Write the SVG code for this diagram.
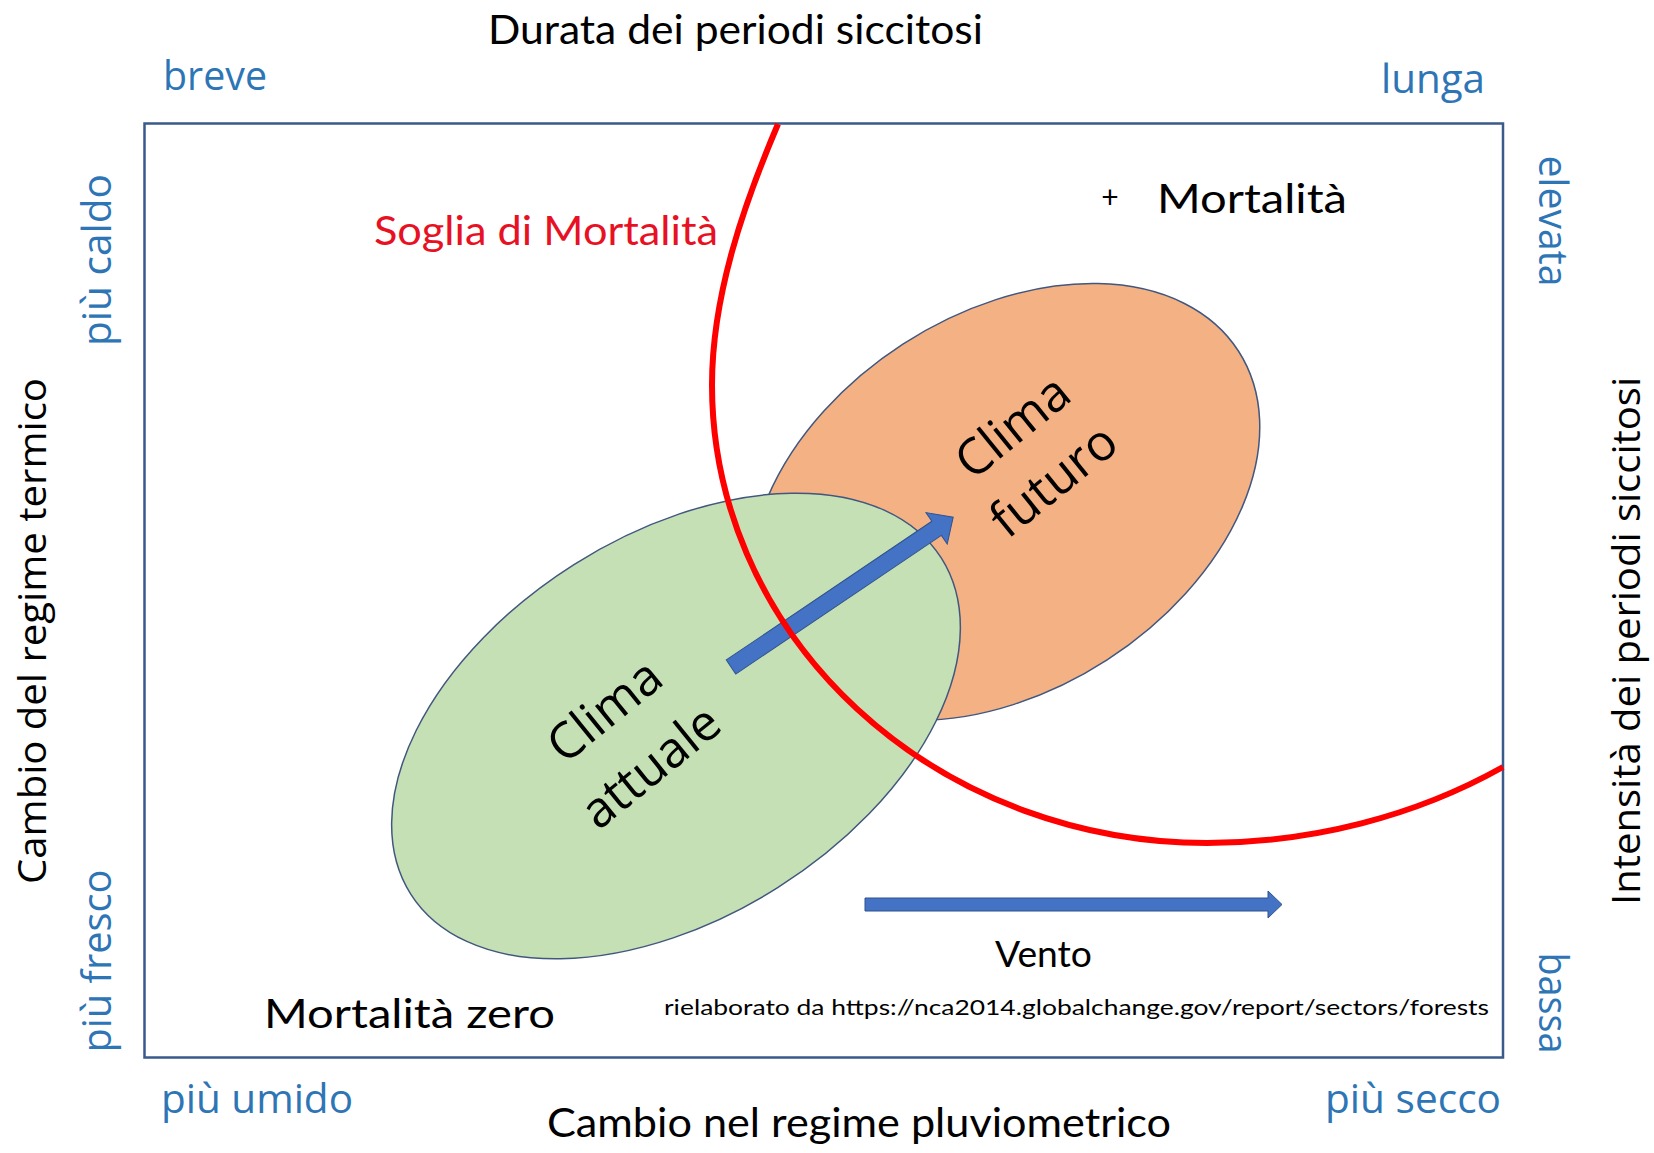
<svg xmlns="http://www.w3.org/2000/svg" width="1654" height="1153" viewBox="0 0 1654 1153">
<style>
.blue{fill:#2E75B6;font-family:"Open Sans","Liberation Sans",sans-serif;font-size:41px}
.blk{fill:#000;font-family:"Lato","Liberation Sans",sans-serif;font-size:40px}
.ax{fill:#000;font-family:"Open Sans","Liberation Sans",sans-serif;font-size:38px}
.clima{fill:#000;font-family:"Open Sans","Liberation Sans",sans-serif;font-size:50px;text-anchor:middle}
.arrow{fill:#4472C4;stroke:#2F528F;stroke-width:1}
</style>
<rect width="1654" height="1153" fill="#fff"/>
<g id="frame"><rect x="144.5" y="123.5" width="1358.5" height="934" fill="#fff" stroke="#3B5A8C" stroke-width="2.5"/></g>
<g id="axis-labels">
<text class="blk" x="488" y="44" textLength="495" lengthAdjust="spacingAndGlyphs">Durata dei periodi siccitosi</text>
<text class="blk" x="547" y="1137" textLength="624" lengthAdjust="spacingAndGlyphs">Cambio nel regime pluviometrico</text>
<text class="ax" transform="translate(46 631) rotate(-90)" text-anchor="middle" textLength="506" lengthAdjust="spacingAndGlyphs">Cambio del regime termico</text>
<text class="ax" transform="translate(1640 641) rotate(-90)" text-anchor="middle" textLength="528" lengthAdjust="spacingAndGlyphs">Intensità dei periodi siccitosi</text>
</g>
<g id="range-labels">
<text class="blue" x="163" y="90" textLength="104" lengthAdjust="spacingAndGlyphs">breve</text>
<text class="blue" x="1381" y="93" textLength="104" lengthAdjust="spacingAndGlyphs">lunga</text>
<text class="blue" x="161" y="1113" textLength="192" lengthAdjust="spacingAndGlyphs">più umido</text>
<text class="blue" x="1325" y="1113" textLength="176" lengthAdjust="spacingAndGlyphs">più secco</text>
<text class="blue" transform="translate(111 260) rotate(-90)" text-anchor="middle" textLength="172" lengthAdjust="spacingAndGlyphs">più caldo</text>
<text class="blue" transform="translate(111 961) rotate(-90)" text-anchor="middle" textLength="183" lengthAdjust="spacingAndGlyphs">più fresco</text>
<text class="blue" transform="translate(1539 221) rotate(90)" text-anchor="middle" textLength="131" lengthAdjust="spacingAndGlyphs">elevata</text>
<text class="blue" transform="translate(1539 1003) rotate(90)" text-anchor="middle" textLength="101" lengthAdjust="spacingAndGlyphs">bassa</text>
</g>
<g id="clima-futuro">
<ellipse cx="1005" cy="502" rx="278" ry="188" transform="rotate(-32.9 1005 502)" fill="#F4B183" stroke="#41577F" stroke-width="1.5"/>
<text class="clima" transform="translate(1012 426) rotate(-39)" x="0" y="18">Clima</text>
<text class="clima" transform="translate(1053 480) rotate(-39)" x="0" y="18">futuro</text>
</g>
<g id="clima-attuale">
<ellipse cx="676" cy="726" rx="314" ry="191" transform="rotate(-32.3 676 726)" fill="#C5E0B4" stroke="#41577F" stroke-width="1.5"/>
<text class="clima" transform="translate(604 710) rotate(-39)" x="0" y="18">Clima</text>
<text class="clima" transform="translate(650 766) rotate(-39)" x="0" y="18">attuale</text>
</g>
<g id="connectors">
<polygon class="arrow" transform="translate(731 667) rotate(-34)" points="0,-8.5 248,-8.5 248,-19 268,0 248,19 248,8.5 0,8.5"/>
<polygon class="arrow" points="865,898 1268,898 1268,891 1282,904.5 1268,918 1268,911 865,911"/>
</g>
<g id="soglia">
<path d="M778 124 C744 204 712 295 712 385 A495 458 0 0 0 1207 843 A540 458 0 0 0 1503 767" fill="none" stroke="#FF0000" stroke-width="6"/>
<text class="blk" x="374" y="245" style="fill:#E81123" textLength="344" lengthAdjust="spacingAndGlyphs">Soglia di Mortalità</text>
</g>
<g id="mortalita">
<text class="blk" x="1110" y="208" text-anchor="middle" style="font-size:30px">+</text>
<text class="blk" x="1157" y="213" textLength="190" lengthAdjust="spacingAndGlyphs">Mortalità</text>
</g>
<g id="mortalita-zero">
<text class="blk" x="264" y="1028" textLength="291" lengthAdjust="spacingAndGlyphs">Mortalità zero</text>
</g>
<g id="vento">
<text class="blk" x="995" y="967" style="font-size:36px" textLength="97" lengthAdjust="spacingAndGlyphs">Vento</text>
</g>
<g id="fonte">
<text class="blk" x="664" y="1015" style="font-size:22px" textLength="825" lengthAdjust="spacingAndGlyphs">rielaborato da https://nca2014.globalchange.gov/report/sectors/forests</text>
</g>
</svg>
